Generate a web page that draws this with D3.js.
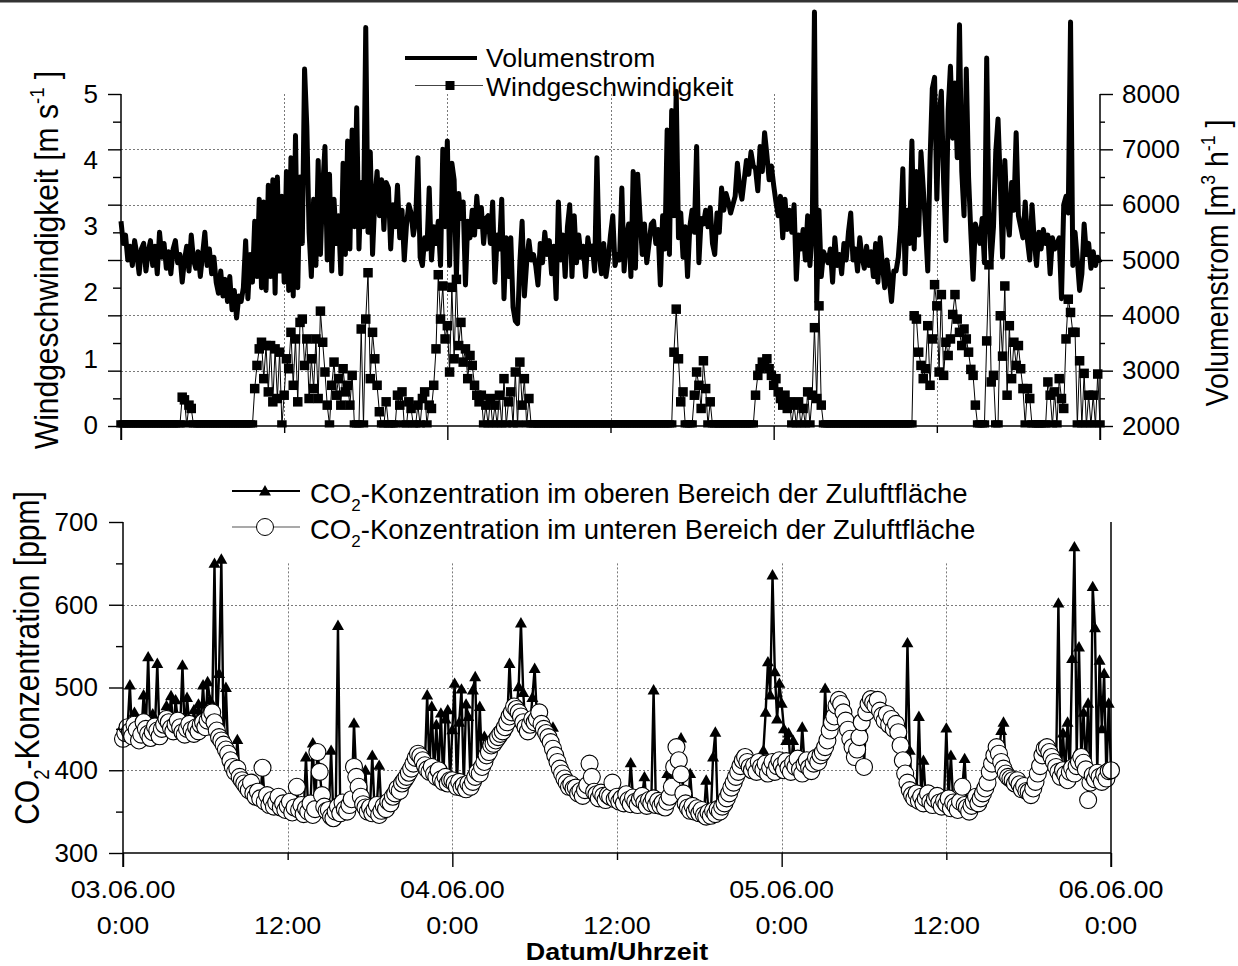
<!DOCTYPE html>
<html>
<head>
<meta charset="utf-8">
<script src="https://cdn.jsdelivr.net/npm/d3@7"></script>
<style>
  body { margin: 0; background: #fff; }
  svg text { font-family: "Liberation Sans", Arial, Helvetica, sans-serif; fill: #000; }
</style>
</head>
<body>
<svg id="chart" width="1238" height="966"></svg>
<script>
// Messreihe 03.06.2000 0:00 bis 06.06.2000 0:00, Messintervall 10 min

// Volumenstrom der Zuluft [m³/h]
const volumenstrom = [
  5700,5300,5450,5000,5250,4900,5350,5100,4750,5200,5300,4800,5150,5350,4900,5250,4750,5500,
  5050,5300,4850,5150,4750,5200,5350,4950,5100,4600,5000,5250,4800,5450,5000,4850,5150,4700,
  5100,5500,4900,5200,4750,5050,4600,4400,4800,4350,4650,4250,4700,4100,4450,3950,4350,4250,
  4500,5350,4300,5100,4600,5700,4700,6100,4500,6050,4450,6350,4700,6450,4400,6500,4800,6150,
  4600,6600,4450,6850,4350,7250,4500,6500,5300,8450,7400,5500,4700,6100,4900,6800,5100,6300,
  7050,5000,6550,4800,6100,5300,5800,4750,6750,5100,7150,5200,7350,5600,7750,5200,6400,5600,
  9200,5500,6950,5100,6100,6600,5800,6450,5550,6400,6300,5200,6000,5600,6350,5400,5900,5000,
  5650,6000,5850,5450,5700,6850,5050,4900,5400,5200,6300,5000,5600,5300,5700,4900,7000,5600,
  7150,4900,6750,6450,4700,6200,5750,6050,4550,5700,5400,5900,5450,6150,5600,5950,5300,5750,
  5800,5300,6050,4600,5450,5200,6100,4300,5400,4700,5400,4150,3900,3850,4950,5700,4350,4950,
  5350,5000,5100,4900,4550,5300,4950,5500,5100,5350,4750,5250,4300,6050,5000,5450,4700,5600,
  6000,4700,5800,4950,5450,5050,5250,4700,5400,5100,5250,4800,6850,5100,4750,5300,4700,5000,
  5450,5800,4900,5100,5000,6300,4800,5400,5650,4700,6600,4850,6550,5800,5100,5650,4950,5300,
  5650,5700,5300,5550,4550,5800,5200,7350,5100,7700,5800,8050,5400,5850,5050,5600,4700,5600,
  5900,5500,7050,4950,5750,5650,5900,5600,5950,5300,5100,5850,5500,6300,5900,6200,6050,5850,
  6000,6150,6750,6300,6100,6450,6800,6550,6950,6700,6650,6250,7050,6600,7300,6900,6450,6700,
  6350,6050,5800,6150,5400,6100,5550,5900,5500,6000,4650,5450,5200,5550,5000,5800,4900,5500,
  9480,4250,5900,4700,5150,5050,4950,5200,4600,5400,4900,5100,4750,5300,5000,5500,5850,5000,
  5200,4800,5400,5050,4850,5250,4900,5150,4700,5300,4600,5400,4900,4500,5000,4650,4250,4800,
  4800,5050,5600,6650,4750,5900,5300,7150,5200,6600,5450,6950,6300,5600,4800,6800,8100,8300,
  6100,7600,8050,6400,5350,7700,8500,7200,8200,6850,9250,6600,5800,8450,6500,5500,4650,5650,
  5500,5300,5750,4950,8650,5750,5000,5600,6950,7550,6400,5050,6800,5800,5450,6400,5900,7300,
  5800,5600,5400,6050,5350,5000,6000,5350,4900,5500,5200,5550,5300,5450,4750,5400,5200,5300,
  5400,4300,6000,6150,5850,9300,4900,5500,5000,4450,4750,5650,5100,5300,4850,5150,4900,5050,
  4950
];

// Windgeschwindigkeit [m/s]
const windgeschwindigkeit = [
  0,0,0,0,0,0,0,0,0,0,0,0,0,0,0,0,0,0,
  0,0,0,0,0,0,0,0,0,0.42,0.38,0,0.3,0.25,0,0,0,0,
  0,0,0,0,0,0,0,0,0,0,0,0,0,0,0,0,0,0,
  0,0,0,0,0,0.55,0.9,1.15,1.25,0.7,1.2,0.5,1.2,0.35,1.15,0.4,1.1,0,
  0.45,1.0,0.85,1.4,0.6,1.3,0.35,1.55,1.6,0.9,1.3,0.4,1.0,0.55,1.3,0.4,1.72,1.25,
  0.8,0.3,0,0.6,0.95,0.45,0.7,0.3,0.85,0.5,0.6,0.3,0.75,0,0,0,1.45,0,
  1.6,2.3,0.7,1.4,1.0,0.6,0.2,0,0,0.35,0,0,0,0,0.45,0.3,0.5,0,
  0,0.35,0.25,0,0,0.3,0,0.4,0.5,0,0.3,0.25,0.6,1.15,2.27,1.6,2.1,1.3,
  1.5,0.8,2.08,1.0,2.2,1.2,1.55,0.95,1.15,0.7,1.05,0.9,0.6,0.45,0.35,0.45,0,0.3,
  0,0.4,0,0.3,0,0.45,0,0.7,0,0.35,0.5,0,0.8,0,0.95,0.3,0.7,0,
  0.4,0,0,0,0,0,0,0,0,0,0,0,0,0,0,0,0,0,
  0,0,0,0,0,0,0,0,0,0,0,0,0,0,0,0,0,0,
  0,0,0,0,0,0,0,0,0,0,0,0,0,0,0,0,0,0,
  0,0,0,0,0,0,0,0,0,0,1.1,1.75,1.0,0.35,0.5,0,0,0,
  0,0.45,0.8,0.6,0.25,0.97,0.55,0,0.35,0,0,0,0,0,0,0,0,0,
  0,0,0,0,0,0,0,0,0,0,0.45,0.75,0.85,0.95,0.9,1.0,0.85,0.75,
  0.6,0.7,0.5,0.4,0.3,0.45,0.25,0.35,0,0.3,0,0.35,0,0.25,0,0.5,0,0.45,
  1.47,0.4,1.8,0.3,0,0,0,0,0,0,0,0,0,0,0,0,0,0,
  0,0,0,0,0,0,0,0,0,0,0,0,0,0,0,0,0,0,
  0,0,0,0,0,0,0,0,1.65,1.6,1.1,0.9,0.7,0.85,1.5,0.6,1.3,2.12,
  1.8,0.8,1.97,0.75,1.25,1.05,1.3,1.67,1.97,1.6,1.4,1.2,1.45,1.3,1.1,0.84,0.75,0.3,
  0,0,0,0,1.27,2.42,0.65,0.75,0,0,1.65,1.04,2.1,0.45,1.5,0.7,1.25,0.9,
  1.2,0.85,0.55,0,0.55,0.4,0,0,0,0,0,0,0,0.65,0.45,0,0.5,0,
  0.7,0.4,0.25,1.3,1.9,1.7,1.4,1.4,0,0.97,0,0.78,0,0.45,0,0.45,0,0.77,
  0
];

// CO2-Konzentration im oberen Bereich der Zuluftfläche [ppm]
const co2Oben = [
  438,445,452,503,441,470,449,436,443,491,450,537,439,468,453,529,441,450,
  455,478,458,490,447,485,460,452,527,443,488,456,449,473,452,480,455,503,
  452,507,485,470,650,448,517,655,436,500,420,412,404,398,437,392,388,384,
  380,376,385,372,368,374,366,403,362,370,358,364,356,361,368,355,360,352,
  357,362,349,355,380,352,358,347,416,350,360,433,353,422,398,370,356,351,
  352,424,342,350,575,348,361,353,350,358,365,457,392,380,368,359,400,350,
  355,418,352,358,406,351,357,353,362,360,368,372,378,375,384,388,392,397,
  402,408,415,420,417,412,406,491,398,477,396,455,400,469,386,462,473,388,
  449,505,380,458,498,382,480,465,380,497,513,398,477,404,441,418,422,430,
  432,436,440,444,447,452,458,529,470,477,474,501,578,494,452,447,455,488,
  523,462,470,456,450,445,440,434,452,418,410,402,396,390,385,380,383,378,
  379,372,375,369,376,382,408,392,374,371,366,373,369,364,370,368,385,365,
  368,362,366,360,371,364,409,367,362,358,365,369,392,357,364,360,497,358,
  363,357,361,355,396,368,380,404,428,412,439,372,360,355,396,357,350,354,
  348,352,346,388,349,345,416,446,353,350,356,360,366,372,379,385,392,398,
  405,412,416,410,404,400,406,398,410,404,424,470,531,491,636,519,462,505,
  481,450,436,445,398,436,404,414,401,452,407,412,403,399,408,415,410,418,
  422,499,436,448,458,465,478,485,480,470,460,449,438,428,416,425,440,458,
  404,470,480,486,482,489,485,472,466,460,468,455,462,450,456,446,430,412,
  396,554,424,370,366,372,465,368,412,366,372,362,358,365,369,361,356,363,
  451,366,418,361,357,352,362,380,414,355,350,357,362,368,360,366,372,378,
  385,398,408,418,428,420,448,458,396,392,390,388,384,388,383,377,381,375,
  374,370,378,386,396,405,418,426,428,422,416,410,404,602,392,445,395,458,
  398,535,670,420,549,416,470,401,481,385,622,572,397,533,450,517,390,481,
  400
];

// CO2-Konzentration im unteren Bereich der Zuluftfläche [ppm]
const co2Unten = [
  438,445,452,447,441,455,449,436,443,458,450,444,439,446,453,448,441,450,
  455,462,458,451,447,455,460,452,446,443,450,456,449,444,452,447,455,458,
  452,460,465,470,458,448,440,436,431,425,420,412,404,398,402,392,388,384,
  380,376,385,372,368,374,366,403,362,370,358,364,356,361,368,355,360,352,
  357,362,349,355,380,352,358,347,354,350,360,346,353,422,398,370,356,351,
  352,344,342,350,356,348,361,353,350,358,365,404,392,380,368,359,355,350,
  355,348,352,358,346,351,357,353,362,360,368,372,378,375,384,388,392,397,
  402,408,415,420,417,412,406,401,398,404,396,392,400,389,386,392,384,388,
  388,384,380,386,379,382,377,384,380,386,392,398,396,404,410,418,422,430,
  432,436,440,444,447,452,458,465,470,477,474,470,465,458,452,447,455,462,
  458,462,470,456,450,445,440,434,426,418,410,402,396,390,385,380,383,378,
  379,372,375,369,376,382,408,392,374,371,366,373,369,364,370,368,385,365,
  368,362,366,360,371,364,359,367,362,358,365,369,361,357,364,360,366,358,
  363,357,361,355,362,368,380,404,428,412,395,372,360,355,351,357,350,354,
  348,352,346,344,349,345,351,347,353,350,356,360,366,372,379,385,392,398,
  405,412,416,410,404,400,406,398,410,404,401,408,396,403,410,398,405,412,
  406,400,411,403,398,409,404,414,401,396,407,412,403,399,408,415,410,418,
  422,428,436,448,458,465,478,485,480,470,460,449,438,428,416,425,440,458,
  404,470,480,486,482,478,485,472,466,460,468,455,462,450,456,446,430,412,
  396,385,376,370,366,372,363,368,360,366,372,362,358,365,369,361,356,363,
  359,366,354,361,357,352,362,380,358,355,350,357,362,368,360,366,372,378,
  385,398,408,418,428,420,410,402,396,392,390,388,384,388,383,377,381,375,
  374,370,378,386,396,405,418,426,428,422,416,410,404,398,392,400,395,388,
  398,403,396,405,410,416,409,401,364,385,394,389,397,392,386,395,390,399,
  400
];

// Achsenbeschriftungen
const windTicks = [0, 1, 2, 3, 4, 5];
const volTicks = [2000, 3000, 4000, 5000, 6000, 7000, 8000];
const volMinorTicks = [2500, 3500, 4500, 5500, 6500, 7500];
const co2Ticks = [300, 400, 500, 600, 700];
const co2MinorTicks = [350, 450, 550, 650];
const datumLabels = ["03.06.00", "", "04.06.00", "", "05.06.00", "", "06.06.00"];
const uhrzeitLabels = ["0:00", "12:00", "0:00", "12:00", "0:00", "12:00", "0:00"];

const messIntervallMin = 10;
const t0 = new Date(2000, 5, 3, 0, 0);
const t1 = new Date(2000, 5, 6, 0, 0);
const zeit = volumenstrom.map((_, i) => new Date(t0.getTime() + i * messIntervallMin * 60000));
const tickZeiten = uhrzeitLabels.map((_, k) => new Date(t0.getTime() + k * 12 * 3600000));
const tagTicks = tickZeiten.filter((_, k) => k % 2 === 0);
const mittagTicks = tickZeiten.filter((_, k) => k % 2 === 1);

const svg = d3.select("#chart");

// Rahmenlinie oben
svg.append("line").attr("x1", 0).attr("x2", 1238).attr("y1", 1.2).attr("y2", 1.2)
  .attr("stroke", "#333").attr("stroke-width", 2.4);

// ---------- Oberes Diagramm: Volumenstrom und Windgeschwindigkeit ----------
const xTop = d3.scaleTime().domain([t0, t1]).range([121, 1100]);
const yVol = d3.scaleLinear().domain([2000, 8000]).range([426, 94]);
const yWind = d3.scaleLinear().domain([0, 5]).range([425, 94]);

const oben = svg.append("g");

svg.append("defs").append("clipPath").attr("id", "clipTop")
  .append("rect").attr("x", 100).attr("y", 0).attr("width", 1020).attr("height", 427.5);

// Gitter
oben.append("g").selectAll("line").data(volTicks.slice(1, -1)).join("line")
  .attr("x1", 121).attr("x2", 1100)
  .attr("y1", d => Math.round(yVol(d)) + 0.5).attr("y2", d => Math.round(yVol(d)) + 0.5)
  .attr("stroke", "#7a7a7a").attr("stroke-dasharray", "2,2");
oben.append("g").selectAll("line").data(tickZeiten.slice(1, -1)).join("line")
  .attr("x1", d => Math.round(xTop(d)) + 0.5).attr("x2", d => Math.round(xTop(d)) + 0.5)
  .attr("y1", 94).attr("y2", 426)
  .attr("stroke", "#7a7a7a").attr("stroke-dasharray", "2,2");

// Volumenstrom
oben.append("path").datum(volumenstrom)
  .attr("d", d3.line().x((d, i) => xTop(zeit[i])).y(d => yVol(d)))
  .attr("fill", "none").attr("stroke", "#000").attr("stroke-width", 5)
  .attr("stroke-linejoin", "round");

// Windgeschwindigkeit
const windG = oben.append("g").attr("clip-path", "url(#clipTop)");
windG.append("path").datum(windgeschwindigkeit)
  .attr("d", d3.line().x((d, i) => xTop(zeit[i])).y(d => yWind(d)))
  .attr("fill", "none").attr("stroke", "#000").attr("stroke-width", 1);
windG.selectAll("rect").data(windgeschwindigkeit).join("rect")
  .attr("x", (d, i) => xTop(zeit[i]) - 4.75).attr("y", d => yWind(d) - 4.75)
  .attr("width", 9.5).attr("height", 9.5).attr("fill", "#000");

function styleAxis(g, size) {
  g.select(".domain").remove();
  g.selectAll("line").attr("stroke", "#000").attr("stroke-width", 1.4);
  g.selectAll("text").attr("font-size", size).attr("fill", "#000");
  g.attr("font-family", null).attr("font-size", null);
}

// linke Achse (Windgeschwindigkeit)
styleAxis(oben.append("g").attr("transform", "translate(121,0)")
  .call(d3.axisLeft(yVol).tickValues(volTicks).tickSize(13).tickFormat("")), 26);
styleAxis(oben.append("g").attr("transform", "translate(121,0)")
  .call(d3.axisLeft(yVol).tickValues(volMinorTicks).tickSize(8).tickFormat("")), 26);
styleAxis(oben.append("g").attr("transform", "translate(121,0)")
  .call(d3.axisLeft(yWind).tickValues(windTicks).tickSize(0).tickPadding(23).tickFormat(d3.format("d"))), 26);
oben.append("line").attr("x1", 121).attr("x2", 121).attr("y1", 94).attr("y2", 440)
  .attr("stroke", "#000").attr("stroke-width", 1.5);

// rechte Achse (Volumenstrom)
styleAxis(oben.append("g").attr("transform", "translate(1100,0)")
  .call(d3.axisRight(yVol).tickValues(volTicks).tickSize(13).tickPadding(9).tickFormat(d3.format("d"))), 26);
styleAxis(oben.append("g").attr("transform", "translate(1100,0)")
  .call(d3.axisRight(yVol).tickValues(volMinorTicks).tickSize(5).tickFormat("")), 26);
oben.append("line").attr("x1", 1100).attr("x2", 1100).attr("y1", 94).attr("y2", 440)
  .attr("stroke", "#000").attr("stroke-width", 1.5);

// Zeitachse oben
styleAxis(oben.append("g").attr("transform", "translate(0,426)")
  .call(d3.axisBottom(xTop).tickValues(tagTicks).tickSize(14).tickFormat("")), 26);
styleAxis(oben.append("g").attr("transform", "translate(0,426)")
  .call(d3.axisBottom(xTop).tickValues(mittagTicks).tickSize(7).tickFormat("")), 26);
oben.append("line").attr("x1", 121).attr("x2", 1100).attr("y1", 426).attr("y2", 426)
  .attr("stroke", "#000").attr("stroke-width", 1.5);

// Achsentitel mit Hoch-/Tiefstellung
function titel(x, y, sx, size, parts) {
  const t = svg.append("text")
    .attr("transform", `translate(${x},${y}) scale(${sx},1) rotate(-90)`)
    .attr("text-anchor", "middle").attr("font-size", size);
  let shift = 0;
  parts.forEach(p => {
    const ts = t.append("tspan").text(p.t);
    const target = p.sup ? -0.42 * size : p.sub ? 0.3 * size : 0;
    if (target !== shift) { ts.attr("dy", target - shift); shift = target; }
    if (p.sup || p.sub) ts.attr("font-size", size * 0.62);
  });
  return t;
}
titel(58, 260, 1.08, 30, [{t: "Windgeschwindigkeit [m s"}, {t: "-1", sup: true}, {t: " ]"}]);
titel(1228, 263, 1.12, 28.5, [{t: "Volumenstrom [m"}, {t: "3", sup: true}, {t: " h"}, {t: "-1", sup: true}, {t: " ]"}]);

// Legende oben
oben.append("line").attr("x1", 405).attr("x2", 477).attr("y1", 58).attr("y2", 58)
  .attr("stroke", "#000").attr("stroke-width", 4);
oben.append("text").attr("x", 486).attr("y", 67).attr("font-size", 26.5).text("Volumenstrom");
oben.append("line").attr("x1", 415).attr("x2", 483).attr("y1", 85.5).attr("y2", 85.5)
  .attr("stroke", "#444").attr("stroke-width", 1);
oben.append("rect").attr("x", 445.5).attr("y", 81).attr("width", 9).attr("height", 9).attr("fill", "#000");
oben.append("text").attr("x", 486).attr("y", 96).attr("font-size", 26.5).text("Windgeschwindigkeit");

// ---------- Unteres Diagramm: CO2-Konzentration ----------
const xBot = d3.scaleTime().domain([t0, t1]).range([123, 1111]);
const yCo2 = d3.scaleLinear().domain([300, 700]).range([853, 522]);
const unten = svg.append("g");

unten.append("g").selectAll("line").data([400, 500, 600]).join("line")
  .attr("x1", 123).attr("x2", 1111)
  .attr("y1", d => Math.round(yCo2(d)) + 0.5).attr("y2", d => Math.round(yCo2(d)) + 0.5)
  .attr("stroke", "#7a7a7a").attr("stroke-dasharray", "2,2");
unten.append("g").selectAll("line").data(tickZeiten.slice(1, -1)).join("line")
  .attr("x1", d => Math.round(xBot(d)) + 0.5).attr("x2", d => Math.round(xBot(d)) + 0.5)
  .attr("y1", yCo2(650)).attr("y2", 853)
  .attr("stroke", "#7a7a7a").attr("stroke-dasharray", "2,2");

// oberer Messpunkt: Linie mit Dreiecken
unten.append("path").datum(co2Oben)
  .attr("d", d3.line().x((d, i) => xBot(zeit[i])).y(d => yCo2(d)))
  .attr("fill", "none").attr("stroke", "#000").attr("stroke-width", 2.4);
const dreieck = d3.symbol().type(d3.symbolTriangle).size(62);
unten.append("g").selectAll("path").data(co2Oben).join("path")
  .attr("d", dreieck)
  .attr("transform", (d, i) => `translate(${xBot(zeit[i])},${yCo2(d) + 1})`)
  .attr("fill", "#000");

// unterer Messpunkt: Linie mit offenen Kreisen
unten.append("path").datum(co2Unten)
  .attr("d", d3.line().x((d, i) => xBot(zeit[i])).y(d => yCo2(d)))
  .attr("fill", "none").attr("stroke", "#000").attr("stroke-width", 1);
unten.append("g").selectAll("circle").data(co2Unten).join("circle")
  .attr("cx", (d, i) => xBot(zeit[i])).attr("cy", d => yCo2(d)).attr("r", 8.5)
  .attr("fill", "#fff").attr("stroke", "#000").attr("stroke-width", 1.1);

// Achsen unten
styleAxis(unten.append("g").attr("transform", "translate(123,0)")
  .call(d3.axisLeft(yCo2).tickValues(co2Ticks).tickSize(14).tickPadding(11).tickFormat(d3.format("d"))), 26);
styleAxis(unten.append("g").attr("transform", "translate(123,0)")
  .call(d3.axisLeft(yCo2).tickValues(co2MinorTicks).tickSize(7).tickFormat("")), 26);
unten.append("line").attr("x1", 123).attr("x2", 123).attr("y1", 522).attr("y2", 867)
  .attr("stroke", "#000").attr("stroke-width", 1.5);
unten.append("line").attr("x1", 1111).attr("x2", 1111).attr("y1", 522).attr("y2", 867)
  .attr("stroke", "#000").attr("stroke-width", 1.5);
styleAxis(unten.append("g").attr("transform", "translate(0,853)")
  .call(d3.axisBottom(xBot).tickValues(tagTicks).tickSize(14).tickFormat("")), 26);
styleAxis(unten.append("g").attr("transform", "translate(0,853)")
  .call(d3.axisBottom(xBot).tickValues(mittagTicks).tickSize(7).tickFormat("")), 26);
unten.append("line").attr("x1", 123).attr("x2", 1111).attr("y1", 853).attr("y2", 853)
  .attr("stroke", "#000").attr("stroke-width", 1.5);

// Zeitbeschriftung
const xl = unten.append("g");
tickZeiten.forEach((t, k) => {
  if (datumLabels[k]) {
    xl.append("text").attr("transform", `translate(${xBot(t)},898) scale(1.17,1)`)
      .attr("text-anchor", "middle").attr("font-size", 23).text(datumLabels[k]);
  }
  xl.append("text").attr("transform", `translate(${xBot(t)},934) scale(1.17,1)`)
    .attr("text-anchor", "middle").attr("font-size", 23).text(uhrzeitLabels[k]);
});
xl.append("text").attr("transform", "translate(617,960) scale(1.17,1)")
  .attr("text-anchor", "middle").attr("font-size", 23).attr("font-weight", "bold")
  .text("Datum/Uhrzeit");

titel(39, 658, 1.15, 30, [{t: "CO"}, {t: "2", sub: true}, {t: "-Konzentration [ppm]"}]);

// Legende unten
function legText(y, rest) {
  const t = unten.append("text").attr("x", 310).attr("y", y).attr("font-size", 27.5);
  t.append("tspan").text("CO");
  t.append("tspan").attr("dy", 8).attr("font-size", 17).text("2");
  t.append("tspan").attr("dy", -8).text(rest);
}
unten.append("line").attr("x1", 232).attr("x2", 300).attr("y1", 491).attr("y2", 491)
  .attr("stroke", "#000").attr("stroke-width", 2);
unten.append("path").attr("d", dreieck).attr("transform", "translate(265,492)").attr("fill", "#000");
legText(503, "-Konzentration im oberen Bereich der Zuluftfläche");
unten.append("line").attr("x1", 232).attr("x2", 300).attr("y1", 527).attr("y2", 527)
  .attr("stroke", "#555").attr("stroke-width", 1.2);
unten.append("circle").attr("cx", 265).attr("cy", 527).attr("r", 8.5)
  .attr("fill", "#fff").attr("stroke", "#000").attr("stroke-width", 1);
legText(539, "-Konzentration im unteren Bereich der Zuluftfläche");
</script>
</body>
</html>
